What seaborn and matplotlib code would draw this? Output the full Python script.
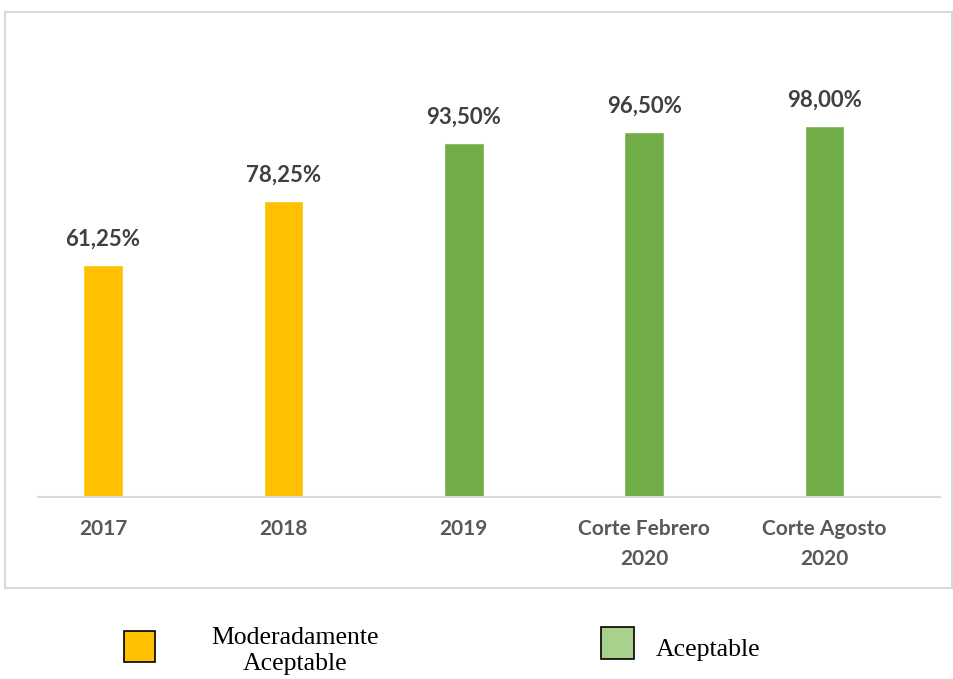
import matplotlib
matplotlib.use('Agg')
import matplotlib.pyplot as plt
import seaborn as sns
import pandas as pd
from matplotlib.patches import Rectangle

categorias = ['2017', '2018', '2019', 'Corte Febrero\n2020', 'Corte Agosto\n2020']
valores = [61.25, 78.25, 93.50, 96.50, 98.00]
etiquetas = ['61,25%', '78,25%', '93,50%', '96,50%', '98,00%']
niveles = ['Moderadamente Aceptable', 'Moderadamente Aceptable', 'Aceptable', 'Aceptable', 'Aceptable']
colores = {'Moderadamente Aceptable': '#FFC000', 'Aceptable': '#70AD47'}

sns.set_style('white')
plt.rcParams['font.family'] = ['Lato', 'DejaVu Sans']

df = pd.DataFrame({'cat': categorias, 'val': valores, 'nivel': niveles})

W, H = 954, 679
fig = plt.figure(figsize=(W / 100, H / 100), dpi=100)
ax = fig.add_axes([38 / W, (H - 497) / H, (940 - 38) / W, (497 - 30) / H])

sns.barplot(data=df, x='cat', y='val', hue='nivel', palette=colores,
            dodge=False, width=0.22, legend=False, ax=ax, saturation=1)

for i, (v, t) in enumerate(zip(valores, etiquetas)):
    ax.text(i, v + 4.0, t, ha='center', va='bottom', fontsize=16,
            fontweight='bold', color='#404040')

ax.set_xlim(-0.36, 4.64)
ax.set_ylim(0, 123.3)
ax.set_xlabel('')
ax.set_ylabel('')
ax.set_yticks([])
ax.tick_params(axis='x', length=0, pad=16)
for lab in ax.get_xticklabels():
    lab.set_fontsize(15)
    lab.set_fontweight('bold')
    lab.set_color('#595959')
    lab.set_linespacing(1.6)
for s in ['top', 'left', 'right']:
    ax.spines[s].set_visible(False)
ax.spines['bottom'].set_color('#D9D9D9')
ax.spines['bottom'].set_linewidth(1.5)

# outer chart border
fig.patches.append(Rectangle((5 / W, (H - 588) / H), (952 - 5) / W, (588 - 12) / H,
                             transform=fig.transFigure, fill=False,
                             edgecolor='#D9D9D9', linewidth=1.5))

# legend
fig.patches.append(Rectangle((124 / W, (H - 662) / H), 31 / W, 31 / H,
                             transform=fig.transFigure, facecolor='#FFC000',
                             edgecolor='black', linewidth=1.2))
fig.patches.append(Rectangle((601 / W, (H - 659) / H), 33 / W, 32 / H,
                             transform=fig.transFigure, facecolor='#A9D18E',
                             edgecolor='black', linewidth=1.2))
fig.text(295 / W, (H - 651) / H, 'Moderadamente\nAceptable', ha='center', va='center',
         fontsize=18.5, family='Liberation Serif', color='black', linespacing=1.25)
fig.text(656 / W, (H - 650) / H, 'Aceptable', ha='left', va='center',
         fontsize=18.5, family='Liberation Serif', color='black')

fig.savefig('out.png', dpi=100)
